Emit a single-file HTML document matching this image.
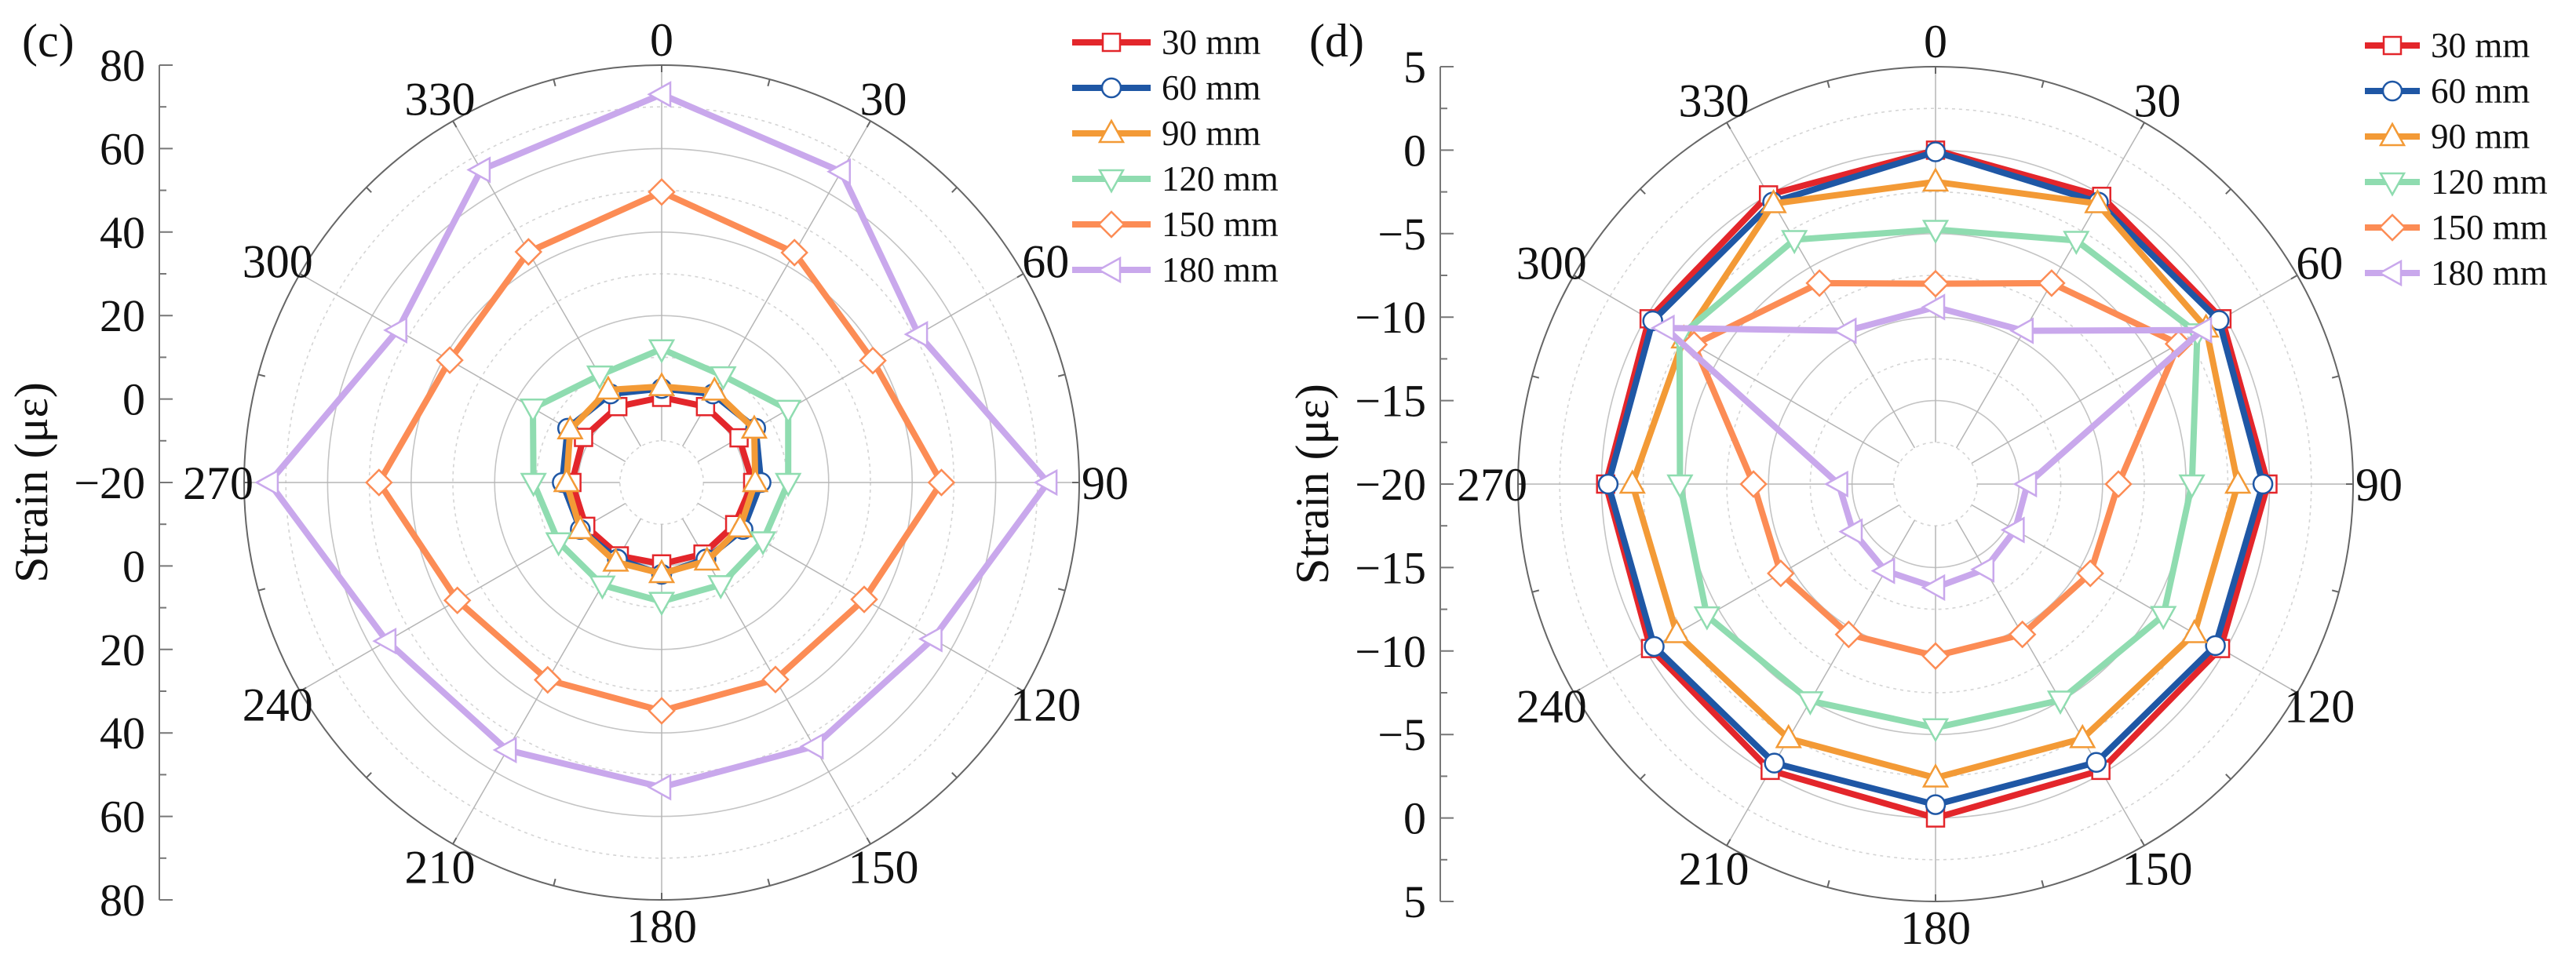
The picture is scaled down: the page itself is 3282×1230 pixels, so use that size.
<!DOCTYPE html>
<html><head><meta charset="utf-8"><style>
html,body{margin:0;padding:0;background:#fff;}
svg{display:block;font-family:"Liberation Serif",serif;}
</style></head><body>
<svg id="fig" width="3282" height="1230" viewBox="0 0 3282 1230" xmlns="http://www.w3.org/2000/svg"></svg>
<script>
const angles = [0,30,60,90,120,150,180,210,240,270,300,330];
const seriesNames = ["30 mm","60 mm","90 mm","120 mm","150 mm","180 mm"];
const cS30  = [0.4,1,1.4,1.8,0.2,-0.2,-0.5,0.3,1,1.5,1.6,1];
const cS60  = [2.5,4.5,6,3.8,2.5,1.2,2,1.2,2.5,3.8,6,4.5];
const cS90  = [3,5.3,5.6,2.4,1.7,1.7,1.8,2,2.5,2.8,5.3,5.6];
const cS120 = [12,9.5,15,10.3,8,8.3,8.5,8.4,8.5,10.7,15.6,9.7];
const cS150 = [49.6,43.6,38.4,47,36,34.5,34.7,34.6,36.5,47.7,38.6,43.8];
const cS180 = [73,66,51,72.5,55,53,53,54,56,74,53,66.5];
const dS30  = [0,-0.1,-0.2,-0.1,-0.3,-0.2,0,-0.2,-0.3,-0.25,-0.2,0];
const dS60  = [-0.1,-0.5,-0.4,-0.4,-0.65,-0.75,-0.8,-0.7,-0.55,-0.4,-0.45,-0.5];
const dS90  = [-1.9,-0.6,-1.3,-1.9,-2.1,-2.4,-2.4,-2.4,-2.1,-1.85,-2.6,-0.6];
const dS120 = [-4.75,-3.15,-1.9,-4.65,-4.25,-5.05,-5.4,-5,-4.2,-4.7,-2.3,-3.1];
const dS150 = [-8,-6.1,-3.2,-9.05,-9.3,-9.6,-9.7,-9.6,-9.3,-9.1,-3.3,-6.1];
const dS180 = [-9.4,-9.4,-1.55,-14.5,-14.5,-14.1,-13.8,-14,-14.3,-14.2,-1.3,-9.4];
const cTickLabels = ["80","60","40","20","0","\u221220","0","20","40","60","80"];
const dTickLabels = ["5","0","\u22125","\u221210","\u221215","\u221220","\u221215","\u221210","\u22125","0","5"];
const cGridSolid = [0,20,40,60,80];
const cGridDotted = [-10,10,30,50,70];
const dGridSolid = [-15,-10,-5,0,5];
const dGridDotted = [-17.5,-12.5,-7.5,-2.5,2.5];

const colors = ["#e3262b","#1f57a5","#f39a36","#8fdcb0","#fc8c55","#c9a8ec"];
const markers = ["square","circle","tri-up","tri-down","diamond","tri-left"];
const NS = "http://www.w3.org/2000/svg";
const svg = document.getElementById("fig");
function mk(tag, attrs, parent){ const e=document.createElementNS(NS,tag); for(const k in attrs) e.setAttribute(k,attrs[k]); (parent||svg).appendChild(e); return e; }

function marker(g, type, x, y, col){
  const s=13; let e;
  const st={fill:"#fff",stroke:col,"stroke-width":2.5};
  if(type==="square"){ e=mk("rect",Object.assign({x:x-11,y:y-11,width:22,height:22},st),g); }
  else if(type==="circle"){ e=mk("circle",Object.assign({cx:x,cy:y,r:12},st),g); }
  else { let p;
    if(type==="tri-up") p=[[x,y-16],[x+15,y+11],[x-15,y+11]];
    else if(type==="tri-down") p=[[x,y+16],[x+15,y-11],[x-15,y-11]];
    else if(type==="tri-left") p=[[x-16,y],[x+11,y-15],[x+11,y+15]];
    else p=[[x,y-s-3],[x+s+3,y],[x,y+s+3],[x-s-3,y]];
    e=mk("polygon",Object.assign({points:p.map(q=>q.join(",")).join(" ")},st),g); }
  return e;
}

function chart(o){
  const g=mk("g",{});
  
  
  const R=532, cx=o.cx, cy=o.cy;
  const rad=v=>(v-o.min)/(o.max-o.min)*R;
  const pt=(a,v)=>{const r=rad(v), t=a*Math.PI/180; return [cx+r*Math.sin(t), cy-r*Math.cos(t)];};
  // grid circles
  o.solid.forEach(v=>{ if(v<o.max){ const c=mk("circle",{cx:cx,cy:cy,r:rad(v),fill:"none",stroke:"#c4c4c4","stroke-width":1.6},g);
      }});
  o.dotted.forEach(v=>{ const c=mk("circle",{cx:cx,cy:cy,r:rad(v),fill:"none",stroke:"#d4d4d4","stroke-width":1.6,"stroke-dasharray":"4 5"},g);
      });
  // spokes
  angles.forEach(a=>{ const p1=pt(a,o.dotted[0]), p2=pt(a,o.max);
    const l=mk("line",{x1:p1[0],y1:p1[1],x2:p2[0],y2:p2[1],stroke:"#b5b5b5","stroke-width":1.5},g);
      });
  // outer circle
  const oc=mk("circle",{cx:cx,cy:cy,r:R,fill:"none",stroke:"#666","stroke-width":2},g);
   
  for(let a=0;a<360;a+=15){ const t=a*Math.PI/180;
    mk("line",{x1:cx+R*Math.sin(t),y1:cy-R*Math.cos(t),x2:cx+(R-9)*Math.sin(t),y2:cy-(R-9)*Math.cos(t),stroke:"#666","stroke-width":2},g); }
  // angle labels
  angles.forEach(a=>{ const t=a*Math.PI/180; const lr=565;
    const tx=mk("text",{x:cx+lr*Math.sin(t),y:cy-lr*Math.cos(t)+21,"text-anchor":"middle","font-size":60,fill:"#111"},g);
    tx.textContent=String(a);
      });
  // y axis
  const ax=o.axisX, top=cy-R, bot=cy+R, step=(bot-top)/(o.ticks.length-1);
  const al=mk("line",{x1:ax,y1:top,x2:ax,y2:bot,stroke:"#777","stroke-width":2},g);
   
  o.ticks.forEach((lab,i)=>{ const y=top+i*step;
    mk("line",{x1:ax,y1:y,x2:ax+17,y2:y,stroke:"#777","stroke-width":2},g);
    if(i<o.ticks.length-1) mk("line",{x1:ax,y1:y+step/2,x2:ax+9,y2:y+step/2,stroke:"#777","stroke-width":2},g);
    const t=mk("text",{x:ax-18,y:y+20,"text-anchor":"end","font-size":58,fill:"#111"},g);
    t.textContent=lab;
      });
  const yt=mk("text",{x:0,y:0,"text-anchor":"middle","font-size":60,fill:"#111",transform:`translate(${o.titleX},${cy}) rotate(-90)`},g);
  yt.textContent="Strain (\u03bc\u03b5)";
   
  const pl=mk("text",{x:o.panelX,y:72,"font-size":60,fill:"#111"},g);
  pl.textContent=o.panel;
   
  // series
  o.series.forEach((vals,si)=>{
    const sg=mk("g",{},g);
    
    
    const pts=vals.map((v,i)=>pt(angles[i],v));
    const pg=mk("polygon",{points:pts.map(p=>p.join(",")).join(" "),fill:"none",stroke:colors[si],"stroke-width":8,"stroke-linejoin":"miter"},sg);
     
    pts.forEach(p=>{ const m=marker(sg,markers[si],p[0],p[1],colors[si]);
        });
  });
  // legend
  const lg=mk("g",{},g);
   
  seriesNames.forEach((n,i)=>{ const y=o.legY+i*58;
    const eg=mk("g",{},lg);
     
    mk("line",{x1:o.legX,y1:y,x2:o.legX+o.legW,y2:y,stroke:colors[i],"stroke-width":8},eg);
    marker(eg,markers[i],o.legX+o.legW/2,y,colors[i]);
    const t=mk("text",{x:o.legX+o.legW+14,y:y+15,"font-size":45,fill:"#111"},eg);
    t.textContent=n; });
}

chart({name:"chart-c",cx:843,cy:615,min:-20,max:80,solid:cGridSolid,dotted:cGridDotted,ticks:cTickLabels,axisX:203,titleX:60,panelX:28,panel:"(c)",
  series:[cS30,cS60,cS90,cS120,cS150,cS180],legX:1366,legW:100,legY:54});
chart({name:"chart-d",cx:2466,cy:617,min:-20,max:5,solid:dGridSolid,dotted:dGridDotted,ticks:dTickLabels,axisX:1835,titleX:1692,panelX:1668,panel:"(d)",
  series:[dS30,dS60,dS90,dS120,dS150,dS180],legX:3013,legW:70,legY:58});
</script>
</body></html>
